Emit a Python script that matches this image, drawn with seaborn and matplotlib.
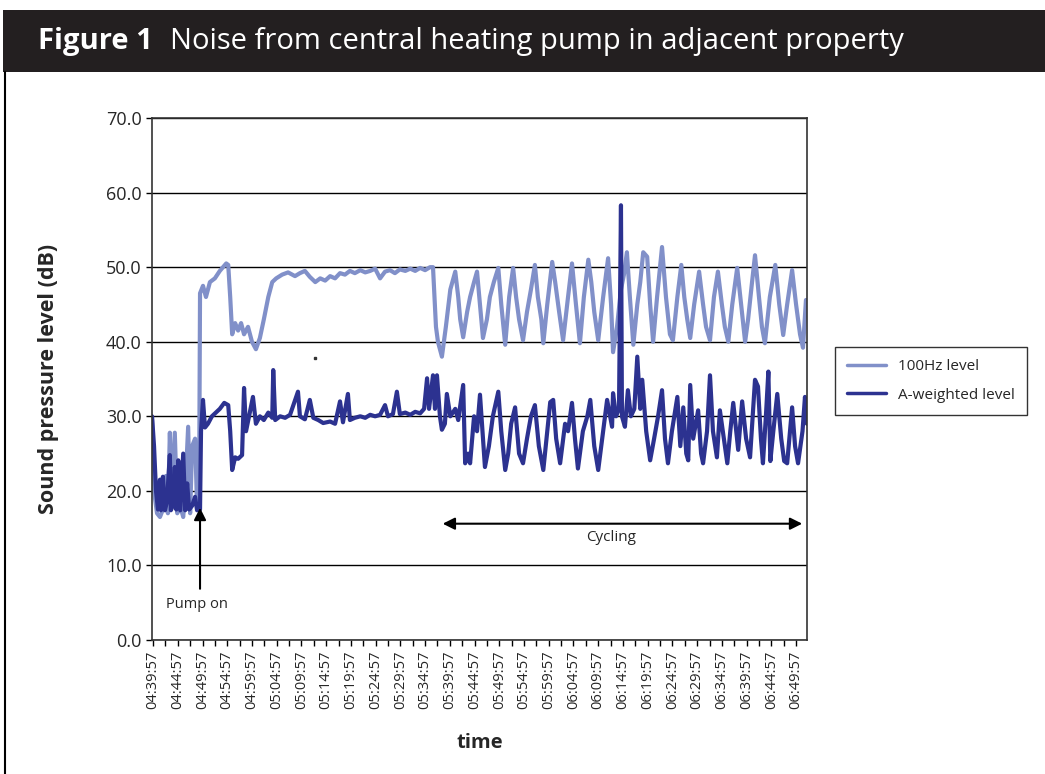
import numpy as np
import pandas as pd
import matplotlib.pyplot as plt
import seaborn as sns
from matplotlib.lines import Line2D
from matplotlib.patches import Rectangle

# minutes after 04:39:57 and level in dB
hz_time = [-0.2, 0.2, 0.8, 1.4, 2.0, 2.6, 3.0, 3.4, 3.8, 4.4, 4.9, 5.5, 6.1, 6.5, 7.1, 7.5, 7.9, 8.5,
           8.9, 9.3, 9.5, 10.1, 10.7, 11.5, 12.5, 13.5, 14.8, 15.2, 15.6, 16.0, 16.6, 17.2, 17.8,
           18.4, 19.2, 20.0, 20.8, 21.6, 22.4, 23.3, 24.1, 24.9, 26.1, 27.3, 28.7, 29.7, 30.7,
           31.7, 32.8, 33.8, 34.8, 35.8, 36.8, 37.8, 38.8, 39.8, 40.8, 41.9, 42.9, 43.9, 44.9,
           45.9, 46.9, 47.9, 48.9, 49.9, 51.0, 52.0, 53.0, 54.0, 55.0, 56.0, 56.6, 57.2, 57.6,
           58.4, 59.2, 60.1, 61.1, 61.7, 62.1, 62.7, 63.5, 64.1, 64.9, 65.5, 66.1, 66.7, 67.5,
           68.1, 68.9, 69.8, 70.4, 71.2, 72.0, 72.8, 73.4, 74.0, 74.8, 75.6, 76.4, 77.2, 77.8,
           78.5, 78.9, 79.7, 80.7, 81.3, 82.1, 82.9, 83.9, 84.7, 85.5, 86.3, 87.1, 88.0, 88.6,
           89.2, 90.0, 91.0, 92.0, 92.6, 93.0, 93.8, 94.6, 95.2, 95.8, 96.4, 97.1, 97.9, 98.5,
           99.1, 99.9, 100.5, 101.1, 101.9, 102.9, 103.7, 104.5, 105.1, 106.0, 106.8, 107.4,
           108.0, 108.6, 109.4, 110.4, 111.2, 111.8, 112.6, 113.4, 114.2, 115.0, 115.6, 116.3,
           117.1, 118.1, 118.9, 119.7, 120.3, 121.1, 121.7, 122.5, 123.1, 123.7, 124.7, 125.8,
           126.6, 127.4, 128.2, 129.2, 130.0, 130.8, 131.4, 132.0]
hz_level = [29.5, 20, 17, 16.5, 17.5, 22, 17, 27.8, 18, 27.8, 17, 18, 16.5, 20, 28.6, 17, 26, 27,
            18, 17.5, 46.5, 47.5, 46, 48, 48.5, 49.5, 50.5, 50.3, 46, 41, 42.5, 41.5, 42.5,
            41, 42, 40, 39, 40.5, 43, 46, 48, 48.5, 49, 49.3, 48.8, 49.2, 49.5,
            48.7, 48, 48.5, 48.2, 48.8, 48.5, 49.2, 49, 49.5, 49.2, 49.6, 49.3, 49.5, 49.8,
            48.5, 49.4, 49.6, 49.2, 49.7, 49.5, 49.8, 49.5, 49.9, 49.6, 50, 50, 42, 40,
            38, 42, 47, 49.4, 46, 43, 40.6, 44, 46, 48, 49.4, 45, 40.5, 43,
            46, 48, 49.9, 45, 39.6, 46, 49.9, 46, 43, 40.2, 44, 47, 50.3, 46,
            43, 39.8, 45, 50.7, 48, 44, 40.2, 46, 50.5, 45, 39.8, 46, 51, 48,
            44, 40.2, 46, 51.2, 45, 38.6, 42, 47, 49, 52, 46, 39.6, 45, 48,
            52, 51.4, 45, 40, 46, 52.7, 46, 41, 40.2, 46, 50.3, 46,
            43, 40.5, 45, 49.4, 45, 42, 40.2, 46, 49.4, 45, 42, 40,
            45, 49.9, 45, 40, 43, 48, 51.6, 46, 42, 39.8, 46, 50.3,
            45, 40.9, 45, 49.6, 45, 41, 39.2, 45.6]

aw_time = [-0.2, 0.2, 0.6, 1.0, 1.4, 1.6, 2.0, 2.4, 2.8, 3.4, 3.6, 4.0, 4.4, 4.7, 5.1, 5.5, 6.1,
           6.5, 6.9, 7.3, 7.9, 8.5, 8.9, 9.5, 9.7, 10.1, 10.5, 11.1, 11.9, 12.7, 13.5, 14.4, 15.2,
           15.6, 16.0, 16.6, 17.2, 18.0, 18.4, 18.8, 19.4, 20.2, 20.8, 21.6, 22.4, 23.3, 24.1,
           24.3, 24.7, 25.7, 26.7, 27.7, 29.3, 29.7, 30.7, 31.7, 32.4, 33.4, 34.4, 35.8, 36.8,
           37.8, 38.4, 39.4, 39.8, 40.8, 41.9, 42.9, 43.9, 44.9, 45.9, 46.9, 47.5, 48.5, 49.3,
           49.9, 51.0, 52.0, 53.0, 54.0, 54.8, 55.4, 55.8, 56.6, 57.0, 57.4, 58.0, 58.4, 59.0,
           59.4, 60.1, 61.1, 61.7, 62.7, 63.1, 63.7, 64.1, 64.9, 65.5, 66.1, 66.7, 67.1, 67.9,
           68.7, 69.8, 70.4, 71.2, 71.8, 72.4, 73.2, 74.0, 74.8, 75.6, 76.4, 77.2, 78.0, 78.9,
           79.7, 80.3, 80.9, 81.5, 82.3, 83.3, 83.9, 84.7, 85.3, 85.9, 86.9, 87.8, 88.4, 89.2,
           90.0, 90.8, 91.8, 92.4, 92.8, 93.0, 93.6, 94.2, 94.6, 94.8, 95.4, 96.0, 96.6, 97.3,
           97.9, 98.5, 98.9, 99.7, 100.5, 101.3, 102.1, 102.9, 103.5, 104.1, 104.9, 106.0,
           106.6, 107.2, 107.8, 108.2, 108.6, 109.2, 110.2, 110.8, 111.2, 112.0, 112.6, 113.2,
           114.0, 114.6, 115.4, 116.1, 116.7, 117.3, 117.9, 118.3, 119.1, 119.9, 120.7, 121.7,
           122.3, 122.9, 123.3, 123.9, 124.4, 124.8, 125.4, 126.2, 127.0, 127.6, 128.2, 129.2,
           129.8, 130.4, 131.3, 131.8, 132.2]
aw_level = [30, 26, 20, 17.5, 21.5, 17.4, 21.9, 17.4, 18.5, 24.8, 17.4, 18, 23.2, 17.5, 24.1, 17.4, 25,
            17.4, 21, 17.5, 18, 19.2, 17.4, 17.5, 28, 32.2, 28.5, 29, 30, 30.5, 31, 31.8, 31.5,
            28, 22.8, 24.5, 24.3, 24.8, 33.8, 28, 30, 32.6, 29, 30, 29.5, 30.5, 29.8,
            36.2, 29.5, 30, 29.8, 30.2, 33.3, 30, 29.6, 32.2, 29.8, 29.5, 29.1, 29.3, 29,
            32, 29.2, 33, 29.5, 29.8, 30, 29.8, 30.2, 30, 30.2, 31.5, 30, 30.3, 33.3,
            30.3, 30.5, 30.2, 30.6, 30.4, 31, 35.1, 31, 35.5, 31, 35.5, 30, 28.2, 29,
            33, 30, 31, 29.5, 34.2, 23.7, 25, 23.7, 30, 28, 32.9, 27, 23.2, 26,
            30, 33.3, 28, 22.8, 25, 29, 31.2, 25, 23.7, 27, 30, 31.5, 26, 22.8,
            28, 31.9, 32.2, 27, 23.7, 29, 28, 31.8, 27, 23, 28, 30, 32.2, 26,
            22.8, 27, 32.2, 30, 28.6, 33.1, 30, 31, 58.3, 30, 28.6, 33.5, 30, 31,
            38, 31, 34.9, 28, 24.1, 27, 30, 33.5, 27, 23.7, 28, 32.6,
            26, 31.2, 25, 24.1, 34.2, 27, 30.8, 25, 23.7, 28, 35.5, 28,
            24.5, 30.8, 27, 23.7, 28, 31.8, 28, 25.5, 32, 27, 24.5, 34.9,
            34, 27, 23.7, 30, 36, 24, 28, 33, 27, 24, 23.7, 31.2,
            26, 23.7, 28, 32.6, 29]

tick_labels = ['04:39:57', '04:44:57', '04:49:57', '04:54:57', '04:59:57', '05:04:57',
               '05:09:57', '05:14:57', '05:19:57', '05:24:57', '05:29:57', '05:34:57',
               '05:39:57', '05:44:57', '05:49:57', '05:54:57', '05:59:57', '06:04:57',
               '06:09:57', '06:14:57', '06:19:57', '06:24:57', '06:29:57', '06:34:57',
               '06:39:57', '06:44:57', '06:49:57']
tick_minutes = [5 * i for i in range(len(tick_labels))]

df = pd.concat([
    pd.DataFrame({'time': hz_time, 'level': hz_level, 'series': '100Hz level'}),
    pd.DataFrame({'time': aw_time, 'level': aw_level, 'series': 'A-weighted level'}),
])

sns.set_style('white')
plt.rcParams['font.family'] = ['Open Sans', 'DejaVu Sans']

fig = plt.figure(figsize=(10.45, 7.74), dpi=100)
ax = fig.add_axes([0.1455, 0.1731, 0.6267, 0.6744])

palette = {'100Hz level': '#8190c9', 'A-weighted level': '#2c3290'}
sns.lineplot(data=df, x='time', y='level', hue='series', palette=palette,
             estimator=None, sort=False, linewidth=3.0, ax=ax, legend=False)

ax.set_xlim(-0.2, 132.2)
ax.set_ylim(0, 70)
ax.set_yticks(np.arange(0, 71, 10))
ax.set_yticklabels([f'{v:.1f}' for v in range(0, 71, 10)], fontsize=13)
ax.set_xticks(tick_minutes)
ax.set_xticklabels(tick_labels, rotation=90, fontsize=10.5)
ax.set_xticks(np.arange(2.5, 132, 5), minor=True)
ax.tick_params(axis='both', which='both', direction='out', length=4, width=1, color='black', bottom=True, left=True)
ax.grid(axis='y', color='black', linewidth=1)
ax.set_axisbelow(True)
for s in ax.spines.values():
    s.set_color('#333333')
    s.set_linewidth(1.2)

ax.set_xlabel('time', fontsize=14.5, fontweight='bold', labelpad=17)
ax.set_ylabel('Sound pressure level (dB)', fontsize=15.5, fontweight='bold', labelpad=34)

# annotations
ax.annotate('', xy=(9.5, 18.1), xytext=(9.5, 6.5),
            arrowprops=dict(arrowstyle='-|>', color='black', lw=1.5, mutation_scale=18))
ax.text(8.9, 4.8, 'Pump on', ha='center', va='center', fontsize=10.5)
ax.annotate('', xy=(58.0, 15.6), xytext=(131.8, 15.6),
            arrowprops=dict(arrowstyle='<|-|>', color='black', lw=1.5, mutation_scale=18))
ax.text(92.6, 13.8, 'Cycling', ha='center', va='center', fontsize=11)
ax.plot([32.8], [37.8], marker='s', markersize=1.5, color='#333333')

handles = [Line2D([], [], color=palette[k], lw=2.5) for k in palette]
fig.legend(handles, list(palette), loc='center', bbox_to_anchor=(0.891, 0.508),
           fontsize=11, frameon=True, fancybox=False, edgecolor='black',
           handlelength=2.5, borderpad=0.8, labelspacing=0.9)

# header bar and frame
fig.add_artist(Rectangle((0.003, 0.907), 0.997, 0.08, transform=fig.transFigure,
                         facecolor='#231f20', edgecolor='none'))
fig.text(0.036, 0.947, 'Figure 1', color='white', fontsize=21, fontweight='bold', va='center')
fig.text(0.163, 0.947, 'Noise from central heating pump in adjacent property',
         color='white', fontsize=21, va='center')
fig.add_artist(Line2D([0.005, 0.005], [0.0, 0.907], transform=fig.transFigure,
                      color='black', lw=1.5))

plt.savefig('out.png', dpi=100)
